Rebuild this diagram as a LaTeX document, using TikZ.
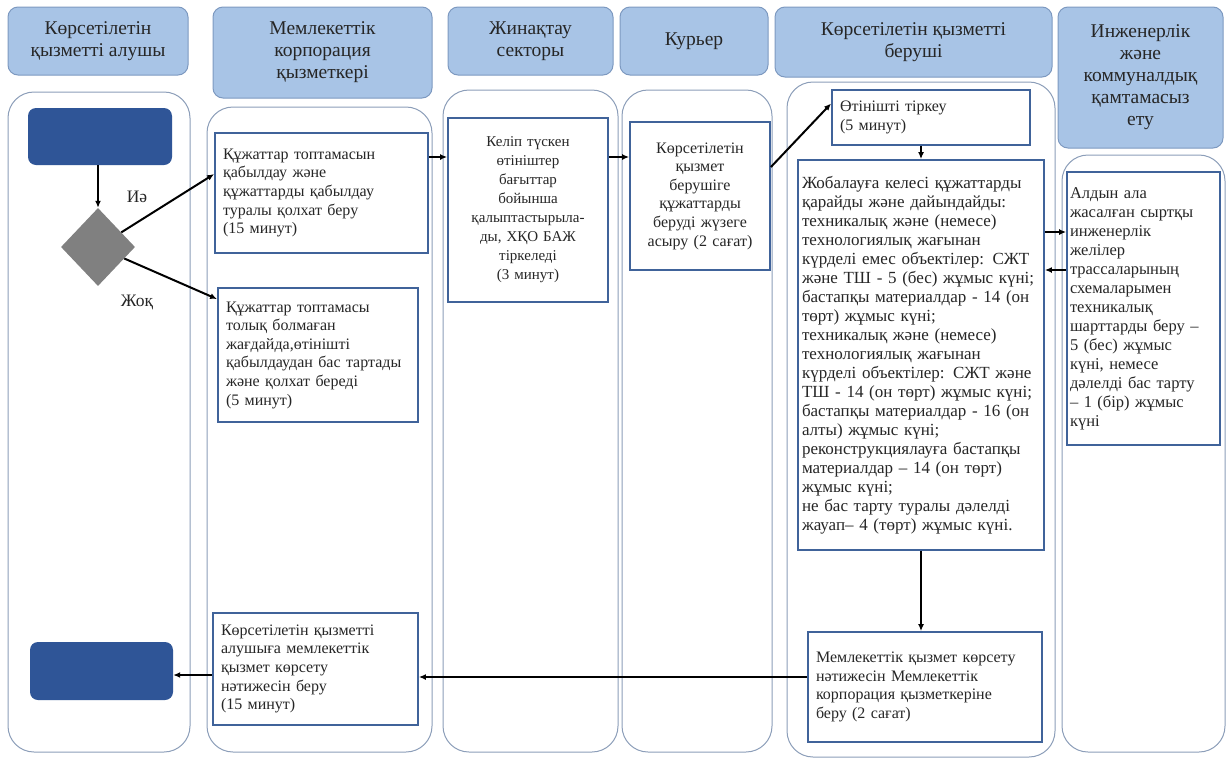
\documentclass[tikz,border=0pt]{standalone}
\usepackage{fontspec}
\setmainfont{Liberation Serif}
\usepackage{tikz}
\usetikzlibrary{arrows.meta, shapes.geometric}

\definecolor{headfill}{HTML}{A8C4E6}
\definecolor{headline}{HTML}{7D99C0}
\definecolor{laneline}{HTML}{8C9EB9}
\definecolor{boxline}{HTML}{40639A}
\definecolor{termfill}{HTML}{2F5597}
\definecolor{txt}{HTML}{262626}

\setlength{\parindent}{0pt}
% one justified line of the long text
\newcommand{\jline}[1]{\makebox[\hsize][s]{#1}\\}

\begin{document}
\begin{tikzpicture}[x=1pt, y=-1pt, >={Latex[length=7pt,width=6pt]},
  header/.style={rectangle, rounded corners=10pt, draw=headline, line width=1pt,
    fill=headfill, align=center, text=txt, font=\fontsize{19.5}{22}\selectfont},
  %
  lane/.style={rectangle, rounded corners=26pt, draw=laneline, line width=1pt,
    fill=white, inner sep=0pt},
  %
  action/.style={rectangle, draw=boxline, line width=1.8pt, fill=white,
    inner sep=8pt, align=left, text=txt, font=\fontsize{16}{18.6}\selectfont},
  %
  terminal/.style={rectangle, rounded corners=8pt, fill=termfill, inner sep=0pt},
  %
  decision/.style={diamond, fill=black!50, inner sep=0pt},
  %
  answer/.style={text=txt, font=\fontsize{17.5}{20}\selectfont},
  %
  arr/.style={->, line width=2pt, black}
  ]

  \useasboundingbox (0,0) rectangle (1227,761);

  \begin{scope}
    % lanes
    \node [lane, minimum width=182pt, minimum height=660pt] (lane1) at (99,422) {};
    \node [lane, minimum width=225pt, minimum height=645pt] (lane2) at (319.5,429.5) {};
    \node [lane, minimum width=175pt, minimum height=662pt] (lane3) at (530.5,421) {};
    \node [lane, minimum width=150pt, minimum height=662pt] (lane4) at (697,421) {};
    \node [lane, minimum width=268pt, minimum height=675pt] (lane5) at (921,419.5) {};
    \node [lane, minimum width=163pt, minimum height=597pt] (lane6) at (1143.5,453.5) {};
    % headers
    \node [header, minimum width=180pt, minimum height=68pt] (recipient) at (98,41)
    {Көрсетілетін\\қызметті алушы};
    \node [header, minimum width=219pt, minimum height=91pt] (corp) at (322.5,52.5)
    {Мемлекеттік\\корпорация\\қызметкері};
    \node [header, minimum width=165pt, minimum height=68pt] (sector) at (530.5,41)
    {Жинақтау\\секторы};
    \node [header, minimum width=148pt, minimum height=68pt] (courier) at (694,41)
    {Курьер};
    \node [header, minimum width=277pt, minimum height=70pt] (provider) at (913.5,42)
    {Көрсетілетін қызметті\\беруші};
    \node [header, minimum width=165pt, minimum height=141pt] (engineer) at (1140.5,77.5)
    {Инженерлік\\және\\коммуналдық\\қамтамасыз\\ету};
  \end{scope}

  \begin{scope}
    \node [terminal, minimum width=144pt, minimum height=57pt] (start) at (100,136.5) {};
    \node [decision, minimum width=74pt, minimum height=78pt] (dec) at (98,247) {};
    \node [answer] (yes) at (137,197) {Иә};
    \node [answer] (no) at (137,302) {Жоқ};
    \node [terminal, minimum width=143pt, minimum height=58pt] (finish) at (101.5,671) {};

    \node [action, text width=197pt, minimum height=120pt] (accept) at (321.5,193)
    {Құжаттар топтамасын\\қабылдау және\\құжаттарды қабылдау\\туралы қолхат беру\\(15 минут)};
    \node [action, text width=184pt, minimum height=134pt] (refuse) at (318,355)
    {Құжаттар топтамасы\\толық болмаған\\жағдайда,өтінішті\\қабылдаудан бас тартады\\және қолхат береді\\(5 минут)};
    \node [action, align=center, text width=144pt, minimum height=184pt,
      font=\fontsize{15}{19}\selectfont] (sort) at (528,210)
    {Келіп түскен\\өтініштер\\бағыттар\\бойынша\\қалыптастырыла-\\ды, ХҚО БАЖ\\тіркеледі\\(3 минут)};
    \node [action, align=center, text width=126pt, inner sep=7pt, minimum height=148pt] (deliver) at (700,196)
    {Көрсетілетін\\қызмет\\берушіге\\құжаттарды\\беруді жүзеге\\асыру (2 сағат)};
    \node [action, text width=182pt, minimum height=55pt] (register) at (931,117.5)
    {Өтінішті тіркеу\\(5 минут)};
    \node [action, text width=238pt, inner sep=4pt, minimum height=390pt,
      font=\fontsize{17}{19}\selectfont] (prepare) at (921,355)
    {\jline{Жобалауға келесі құжаттарды}
     қарайды және дайындайды:\\
     \jline{техникалық және (немесе)}
     \jline{технологиялық жағынан}
     \jline{күрделі емес объектілер: СЖТ}
     \jline{және ТШ - 5 (бес) жұмыс күні;}
     \jline{бастапқы материалдар - 14 (он}
     төрт) жұмыс күні;\\
     \jline{техникалық және (немесе)}
     \jline{технологиялық жағынан}
     \jline{күрделі объектілер: СЖТ және}
     \jline{ТШ - 14 (он төрт) жұмыс күні;}
     \jline{бастапқы материалдар - 16 (он}
     алты) жұмыс күні;\\
     реконструкциялауға бастапқы\\
     материалдар – 14 (он төрт)\\
     жұмыс күні;\\
     не бас тарту туралы дәлелді\\
     жауап– 4 (төрт) жұмыс күні.};
    \node [action, text width=147pt, inner sep=3pt, minimum height=273pt,
      font=\fontsize{16.5}{19}\selectfont] (conditions) at (1143.5,308.5)
    {Алдын ала\\жасалған сыртқы\\инженерлік\\желілер\\трассаларының\\схемаларымен\\техникалық\\шарттарды беру –\\5 (бес) жұмыс\\күні, немесе\\дәлелді бас тарту\\– 1 (бір) жұмыс\\күні};
    \node [action, text width=189pt, minimum height=112pt] (issue) at (315.5,669)
    {Көрсетілетін қызметті\\алушыға мемлекеттік\\қызмет көрсету\\нәтижесін беру\\(15 минут)};
    \node [action, text width=218pt, minimum height=110pt] (result) at (925,687)
    {Мемлекеттік қызмет көрсету\\нәтижесін Мемлекеттік\\корпорация қызметкеріне\\беру (2 сағат)};
  \end{scope}

  \begin{scope}
    \draw [arr] (start.south -| dec.north) -- (dec.north);
    \draw [arr] (dec) -- (accept.170);
    \draw [arr] (dec) -- (refuse.151);
    \draw [arr] ([yshift=36pt]accept.east) -- ([yshift=36pt]accept.east -| sort.west);
    \draw [arr] ([yshift=53pt]sort.east) -- ([yshift=53pt]sort.east -| deliver.west);
    \draw [arr] ([yshift=29pt]deliver.east) -- ([yshift=14pt]register.west);
    \draw [arr] (prepare.north |- register.south) -- (prepare.north);
    \draw [arr] ([yshift=123pt]prepare.east) -- ([yshift=123pt]prepare.east -| conditions.west);
    \draw [arr] ([yshift=85pt]prepare.east -| conditions.west) -- ([yshift=85pt]prepare.east);
    \draw [arr] (prepare.south) -- (prepare.south |- result.north);
    \draw [arr] ([yshift=10pt]result.west) -- ([yshift=10pt]result.west -| issue.east);
    \draw [arr] ([yshift=-6pt]issue.west) -- ([yshift=-6pt]issue.west -| finish.east);
  \end{scope}

\end{tikzpicture}
\end{document}
